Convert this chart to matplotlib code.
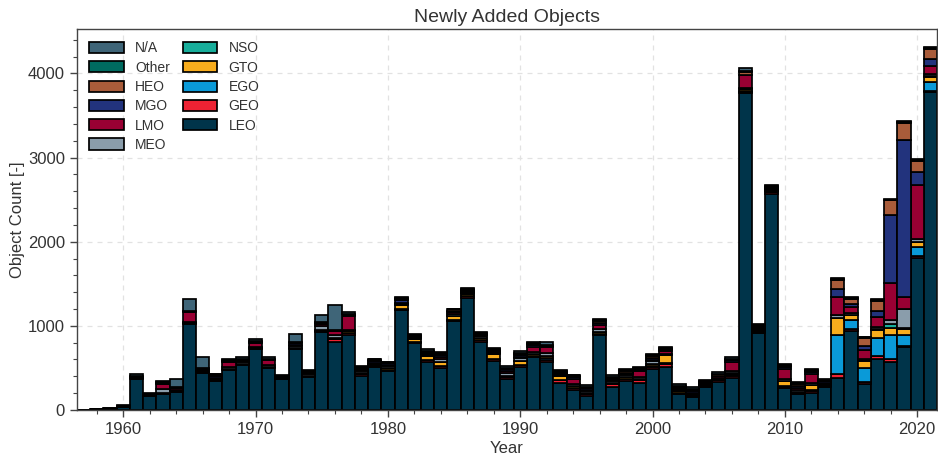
import matplotlib
matplotlib.use("Agg")
import matplotlib.pyplot as plt
from matplotlib.ticker import AutoMinorLocator, MultipleLocator
import numpy as np

years = list(range(1957, 2022))

# Stack order (bottom -> top): LEO, GEO, EGO, GTO, NSO, MEO, LMO, MGO, HEO, Other, N/A
LEO = [4, 10, 15, 38, 370, 160, 190, 210, 1023, 437, 345, 476, 536, 722, 504, 365, 722, 396, 932, 813,
       889, 400, 508, 460, 1182, 794, 575, 496, 1051, 1329, 813, 583, 365, 515, 623, 565, 325, 232, 167, 892,
       278, 349, 325, 484, 515, 190, 150, 270, 337, 377, 3773, 913, 2571, 258, 187, 199, 278, 385, 935, 305,
       605, 570, 745, 1809, 3775]
GEO = [0, 0, 0, 0, 5, 5, 15, 10, 12, 10, 10, 10, 10, 10, 10, 10, 10, 10, 10, 30,
       20, 25, 15, 20, 15, 15, 20, 20, 20, 20, 20, 25, 25, 20, 20, 25, 25, 24, 20, 15,
       25, 15, 25, 28, 25, 15, 12, 10, 15, 25, 10, 15, 15, 15, 15, 20, 10, 45, 25, 22,
       40, 40, 20, 15, 15]
EGO = [0, 0, 0, 0, 0, 0, 0, 0, 0, 0, 0, 0, 0, 0, 0, 0, 0, 0, 0, 0,
       0, 0, 0, 0, 0, 0, 0, 0, 0, 0, 0, 0, 0, 0, 0, 25, 10, 0, 0, 0,
       0, 0, 0, 10, 15, 0, 0, 0, 0, 10, 5, 5, 5, 10, 5, 15, 5, 465, 108, 168,
       208, 278, 131, 107, 108]
GTO = [0, 0, 0, 0, 0, 0, 0, 0, 0, 0, 0, 0, 0, 0, 0, 0, 0, 0, 10, 12,
       24, 15, 10, 20, 48, 32, 40, 48, 44, 32, 20, 55, 15, 48, 24, 31, 40, 26, 15, 15,
       15, 27, 15, 20, 95, 15, 10, 10, 10, 20, 25, 15, 10, 56, 10, 60, 10, 195, 60, 88,
       100, 91, 71, 60, 66]
NSO = [0, 0, 0, 0, 0, 0, 0, 0, 0, 0, 0, 0, 0, 0, 0, 0, 0, 0, 0, 0,
       0, 0, 0, 0, 0, 0, 0, 0, 0, 0, 0, 0, 0, 0, 0, 0, 0, 0, 0, 0,
       0, 0, 0, 0, 0, 0, 0, 0, 0, 5, 0, 0, 0, 5, 0, 5, 0, 5, 5, 5,
       5, 40, 10, 10, 10]
MEO = [0, 0, 0, 0, 0, 0, 40, 15, 12, 10, 15, 20, 20, 15, 15, 15, 25, 20, 40, 30,
       20, 20, 15, 25, 15, 15, 15, 40, 30, 10, 20, 10, 30, 35, 25, 25, 20, 25, 20, 35,
       25, 20, 25, 40, 10, 20, 20, 15, 15, 30, 10, 15, 15, 20, 25, 20, 10, 28, 15, 15,
       28, 48, 218, 35, 25]
LMO = [0, 0, 0, 0, 10, 8, 63, 20, 115, 15, 10, 60, 15, 45, 63, 0, 15, 10, 24, 48,
       167, 15, 10, 12, 10, 10, 15, 25, 15, 15, 10, 10, 28, 15, 60, 71, 10, 62, 15, 55,
       10, 15, 75, 15, 40, 10, 10, 10, 20, 107, 158, 10, 10, 127, 20, 103, 10, 222, 72, 104,
       120, 436, 147, 643, 87]
MGO = [0, 0, 0, 0, 10, 5, 12, 2, 0, 15, 20, 20, 15, 15, 8, 5, 20, 5, 20, 5,
       5, 15, 29, 20, 32, 5, 15, 20, 20, 10, 10, 20, 20, 20, 20, 15, 10, 20, 20, 20,
       20, 18, 10, 20, 15, 15, 20, 10, 10, 15, 0, 15, 15, 20, 20, 25, 15, 98, 40, 48,
       72, 809, 1872, 151, 88]
HEO = [0, 0, 0, 0, 0, 0, 0, 0, 0, 0, 15, 0, 0, 0, 0, 0, 0, 10, 0, 0,
       0, 10, 5, 0, 15, 5, 5, 15, 15, 10, 10, 10, 10, 10, 10, 10, 10, 10, 10, 30,
       10, 15, 10, 20, 10, 10, 15, 10, 15, 12, 40, 10, 10, 15, 24, 15, 10, 105, 60, 100,
       120, 179, 202, 131, 118]
Other = [0, 0, 3, 8, 10, 10, 10, 10, 8, 10, 10, 10, 10, 10, 10, 10, 10, 10, 10, 10,
         10, 10, 10, 10, 10, 10, 10, 10, 10, 10, 10, 10, 10, 10, 10, 10, 10, 10, 10, 10,
         10, 10, 10, 10, 10, 10, 10, 10, 10, 10, 10, 10, 10, 10, 10, 10, 10, 12, 10, 8,
         10, 10, 10, 10, 10]
NA = [0, 0, 0, 8, 20, 15, 12, 100, 150, 127, 0, 10, 20, 20, 15, 12, 100, 15, 80, 305,
      30, 10, 5, 0, 20, 20, 25, 20, 0, 10, 10, 10, 15, 24, 15, 31, 10, 10, 20, 5,
      27, 15, 10, 20, 10, 20, 25, 10, 15, 15, 40, 15, 15, 15, 15, 20, 10, 10, 10, 8,
      10, 10, 10, 10, 10]

series = [
    ("LEO", LEO, "#00344a"),
    ("GEO", GEO, "#ee2233"),
    ("EGO", EGO, "#0a9ad8"),
    ("GTO", GTO, "#f9ad1d"),
    ("NSO", NSO, "#17ae9b"),
    ("MEO", MEO, "#8a9dab"),
    ("LMO", LMO, "#990033"),
    ("MGO", MGO, "#22337d"),
    ("HEO", HEO, "#a95c3a"),
    ("Other", Other, "#006b60"),
    ("N/A", NA, "#3f6578"),
]

plt.rcParams['font.family'] = ['Liberation Sans', 'DejaVu Sans']
txt = "#333333"

fig = plt.figure(figsize=(9.38, 4.59), dpi=100)
ax = fig.add_axes([0.082, 0.107, 0.917, 0.83])

bottom = np.zeros(len(years))
handles = {}
for name, vals, col in series:
    v = np.array(vals, dtype=float)
    h = ax.bar(years, v, width=1.0, bottom=bottom, color=col, edgecolor="black",
               linewidth=1.25, label=name, zorder=2)
    handles[name] = h
    bottom += v

ax.set_xlim(1956.5, 2021.5)
ax.set_ylim(0, 4530)
ax.xaxis.set_major_locator(MultipleLocator(10))
ax.xaxis.set_minor_locator(AutoMinorLocator())
ax.yaxis.set_major_locator(MultipleLocator(1000))
ax.yaxis.set_minor_locator(AutoMinorLocator())
ax.grid(True, which="major", linestyle=(0, (4, 4)), color="#e2e2e2", linewidth=0.9, zorder=0)
ax.set_axisbelow(True)

for s in ax.spines.values():
    s.set_color("#444444")
    s.set_linewidth(1.0)
ax.tick_params(axis="both", which="major", direction="out", length=5, width=1,
               color="#444444", labelsize=12, labelcolor=txt)
ax.tick_params(axis="both", which="minor", direction="out", length=3, width=0.8, color="#444444")

ax.set_title("Newly Added Objects", fontsize=14, color=txt, pad=5)
ax.set_xlabel("Year", fontsize=12, color=txt, labelpad=3)
ax.set_ylabel("Object Count [-]", fontsize=12, color=txt, labelpad=2)

order = ["N/A", "Other", "HEO", "MGO", "LMO", "MEO", "NSO", "GTO", "EGO", "GEO", "LEO"]
leg = ax.legend([handles[n] for n in order], order, loc="upper left", ncol=2, frameon=False,
                fontsize=10, handlelength=2.5, handleheight=0.85, labelspacing=0.38,
                columnspacing=0.9, borderaxespad=0.5, bbox_to_anchor=(0.0, 1.0))
for t in leg.get_texts():
    t.set_color(txt)

fig.savefig("out.png", dpi=100)
